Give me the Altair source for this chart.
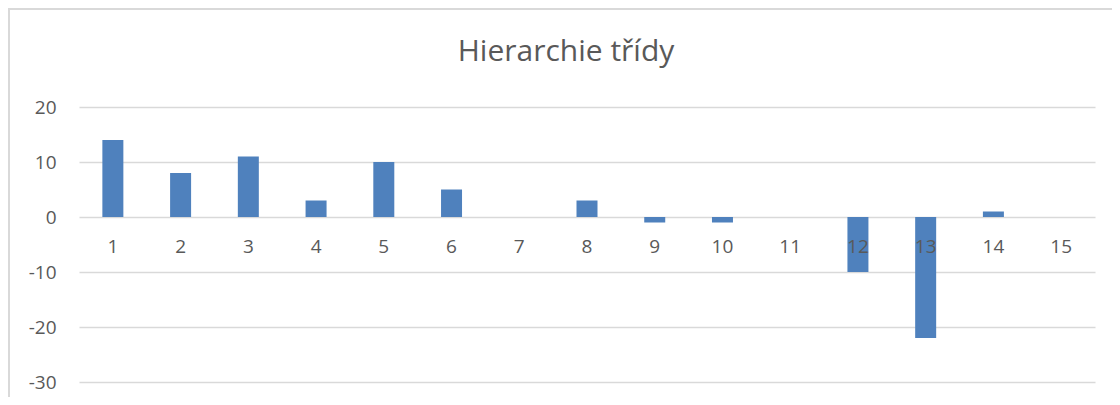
import altair as alt
import pandas as pd

categories = [str(i) for i in range(1, 16)]
values = [14, 8, 11, 3, 10, 5, 0, 3, -1, -1, 0, -10, -22, 1, 0]
y_ticks = [-30, -20, -10, 0, 10, 20]
title_text = "Hierarchie třídy"

df = pd.DataFrame({"kat": categories, "hodnota": values, "nula": [0] * len(categories)})

FONT = "Open Sans"
GREY = "#595959"

x_enc = alt.X("kat:N", sort=categories,
              scale=alt.Scale(paddingInner=0.69, paddingOuter=0.345),
              axis=None)

bars = alt.Chart(df).mark_bar(color="#4F81BD").encode(
    x=x_enc,
    y=alt.Y("hodnota:Q",
            scale=alt.Scale(domain=[-30, 20], nice=False, zero=False),
            axis=alt.Axis(values=y_ticks, title=None, domain=False, ticks=False,
                          grid=True, gridColor="#d9d9d9", gridWidth=1.5,
                          labelFont=FONT, labelFontSize=19, labelColor=GREY,
                          labelPadding=23,
                          labelExpr="datum.value < 0 ? '-' + abs(datum.value) : '' + datum.value")),
)

labels = alt.Chart(df).mark_text(font=FONT, fontSize=19, color=GREY, dy=30).encode(
    x=alt.X("kat:N", sort=categories),
    y=alt.Y("nula:Q"),
    text="kat:N",
)

title = alt.Chart(pd.DataFrame({"t": [title_text]})).mark_text(
    font=FONT, fontSize=30, color=GREY, baseline="middle", align="center"
).encode(x=alt.value(487), y=alt.value(-55), text="t:N")

frame_top = alt.Chart(df.head(1)).mark_rule(color="#d9d9d9", strokeWidth=2).encode(
    x=alt.value(-71), x2=alt.value(1100), y=alt.value(-98)
)
frame_left = alt.Chart(df.head(1)).mark_rule(color="#d9d9d9", strokeWidth=2).encode(
    x=alt.value(-70), y=alt.value(-99), y2=alt.value(300)
)

chart = alt.layer(frame_top, frame_left, bars, labels, title).properties(
    width=1016,
    height=275,
    autosize=alt.AutoSizeParams(type="none"),
    padding={"left": 71, "top": 99, "right": 17, "bottom": 15},
).configure(background="white", view=alt.ViewConfig(stroke=None))

chart.save("out.html", embed_options={"renderer": "svg", "actions": False})
